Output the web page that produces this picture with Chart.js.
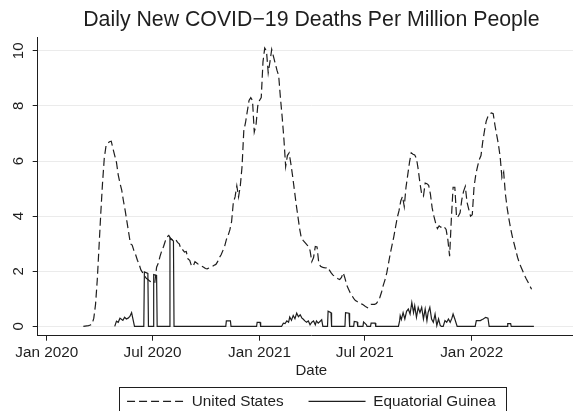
<!DOCTYPE html>
<html>
<head>
<meta charset="utf-8">
<script src="https://cdn.jsdelivr.net/npm/chart.js@4.4.1/dist/chart.umd.min.js"></script>
<style>
  html, body { margin: 0; padding: 0; background: #ffffff; overflow: hidden; }
  canvas { display: block; }
</style>
</head>
<body>
<canvas id="chart" width="585" height="411"></canvas>
<script>
// ---- chart text ----
const chartTitle = 'Daily New COVID\u221219 Deaths Per Million People';
const xAxisTitle = 'Date';
const seriesNames = ['United States', 'Equatorial Guinea'];

// ---- axis ticks ----
const tickDates = ['2020-01-01', '2020-07-01', '2021-01-01', '2021-07-01', '2022-01-01'];
const tickLabels = ['Jan 2020', 'Jul 2020', 'Jan 2021', 'Jul 2021', 'Jan 2022'];
const yTicks = [0, 2, 4, 6, 8, 10];

// ---- United States: 7-day average, one value every 3 days ----
const usFirstDate = '2020-03-04';
const usStepDays = 3;
const usDeaths = [
  0, 0.01, 0.02, 0.03, 0.05, 0.08, 0.3, 0.8, 1.7, 2.9,
  4.1, 5.2, 6.1, 6.55, 6.65, 6.7, 6.72, 6.45, 6.2, 5.95,
  5.5, 5.2, 4.95, 4.55, 4.2, 3.8, 3.4, 3.0, 2.95, 2.75,
  2.6, 2.4, 2.25, 2.05, 1.95, 1.85, 1.75, 1.7, 1.65, 1.6,
  1.62, 1.6, 2.15, 2.3, 2.55, 2.75, 2.9, 3.1, 3.25, 3.3,
  3.2, 3.15, 3.12, 3.15, 3.05, 3.0, 2.8, 2.78, 2.7, 2.72,
  2.45, 2.4, 2.2, 2.18, 2.35, 2.3, 2.25, 2.22, 2.18, 2.15,
  2.1, 2.09, 2.12, 2.15, 2.18, 2.22, 2.25, 2.35, 2.5, 2.6,
  2.75, 2.9, 3.15, 3.3, 3.5, 3.8, 4.5, 4.7, 5.1, 4.7,
  5.1, 5.8, 7.1, 7.4, 7.8, 8.2, 8.3, 8.2, 7.05, 7.3,
  8.0, 8.2, 8.3, 9.6, 10.1, 10.0, 9.2, 9.6, 10.05, 9.8,
  9.55, 9.3, 9.1, 8.3, 7.6, 6.8, 5.8, 6.2, 6.3, 5.9,
  5.45, 4.95, 4.45, 4.0, 3.55, 3.2, 3.12, 3.05, 2.98, 2.9,
  2.75, 2.35, 2.5, 2.9, 2.88, 2.3, 2.18, 2.15, 2.13, 2.12,
  2.15, 2.05, 1.95, 1.87, 1.82, 1.78, 1.73, 1.7, 1.78, 1.95,
  1.75, 1.5, 1.36, 1.22, 1.12, 1.02, 0.94, 0.9, 0.86, 0.83,
  0.8, 0.76, 0.71, 0.68, 0.75, 0.8, 0.8, 0.8, 0.83, 0.92,
  1.05, 1.25, 1.5, 1.7, 1.95, 2.3, 2.65, 2.95, 3.25, 3.6,
  3.95, 4.2, 4.55, 4.72, 4.35, 5.05, 5.5, 5.95, 6.3, 6.25,
  6.22, 6.1, 5.7, 5.2, 4.8, 4.72, 5.2, 5.18, 5.12, 4.8,
  4.3, 4.0, 3.75, 3.55, 3.65, 3.6, 3.65, 3.6, 3.52, 3.15,
  2.55, 3.9, 5.05, 5.05, 3.95, 4.0, 4.12, 4.6, 4.9, 5.08,
  4.5, 4.25, 4.0, 4.05, 5.05, 5.5, 5.8, 6.05, 6.2, 6.7,
  7.1, 7.45, 7.62, 7.7, 7.75, 7.72, 7.3, 6.95, 6.6, 6.15,
  5.4, 5.6, 4.8, 4.3, 3.9, 3.55, 3.25, 3.0, 2.75, 2.5,
  2.3, 2.15, 2.0, 1.85, 1.72, 1.6, 1.47, 1.35
];

// ---- Equatorial Guinea: values at change points (days since 2020-01-01) ----
const egDays = [
  117, 120, 123, 126, 129, 131, 134, 137, 140, 143, 146, 149, 151,
  167, 168, 174, 175,
  183, 184, 189, 190,
  211, 212, 218, 219,
  308, 309, 316, 317,
  361, 362, 367, 368,
  404, 407, 410, 413, 416, 418, 421, 424, 427, 430, 433, 436, 439, 441, 444,
  447, 450, 453, 456, 459, 462, 464, 467, 470, 473, 475,
  483, 484, 489, 490,
  513, 514, 520, 521,
  528, 529, 534, 535,
  544, 545, 548, 550, 551,
  557, 558, 565, 566,
  605, 607, 608, 610, 613, 616, 619, 622, 625, 628, 631, 633, 636, 639, 642,
  645, 648, 651, 654, 656, 659, 662, 665, 668, 671, 674, 677, 679, 682, 685,
  688, 691, 694, 697, 699, 702, 706,
  737, 739, 746, 749, 751, 755, 759, 761,
  792, 793, 798, 799,
  838
];
const egDeaths = [
  0, 0.19, 0.15, 0.3, 0.25, 0.22, 0.33, 0.27, 0.3, 0.36, 0.5, 0.2, 0,
  0, 1.98, 1.92, 0,
  0, 1.88, 1.85, 0,
  0, 3.2, 3.1, 0,
  0, 0.2, 0.2, 0,
  0, 0.15, 0.15, 0,
  0, 0.12, 0.1, 0.2, 0.15, 0.34, 0.22, 0.4, 0.28, 0.48, 0.35, 0.42, 0.3, 0.27, 0.2,
  0.15, 0.2, 0.06, 0.15, 0.2, 0.06, 0.2, 0.12, 0.18, 0.24, 0,
  0, 0.55, 0.5, 0,
  0, 0.5, 0.48, 0,
  0, 0.18, 0.16, 0,
  0, 0.16, 0.1, 0.06, 0,
  0, 0.12, 0.12, 0,
  0, 0.2, 0.39, 0.25, 0.5, 0.27, 0.55, 0.63, 0.45, 0.87, 0.5, 0.75, 0.33, 0.69, 0.5,
  0.69, 0.27, 0.63, 0.21, 0.5, 0.69, 0.27, 0.15, 0.45, 0.03, 0.27, 0.03, 0, 0, 0.21,
  0.15, 0.27, 0.15, 0.3, 0.45, 0.27, 0,
  0, 0.21, 0.21, 0.25, 0.27, 0.33, 0.3, 0,
  0, 0.1, 0.1, 0,
  0
];

// ---- helpers ----
const DAY_MS = 86400000;
const EPOCH = Date.UTC(2020, 0, 1);
const dayOf = s => Math.round((Date.parse(s + 'T00:00:00Z') - EPOCH) / DAY_MS);
const tickDays = tickDates.map(dayOf);
const usStart = dayOf(usFirstDate);

const FONT = '"Liberation Sans", Arial, Helvetica, sans-serif';
const INK = '#1e1e1e';
Chart.defaults.font.family = FONT;
Chart.defaults.color = INK;

// Frame drawn around the legend entries
const legendFrame = {
  id: 'legendFrame',
  afterDraw(chart) {
    const lg = chart.legend;
    if (!lg || !lg.legendHitBoxes || !lg.legendHitBoxes.length) return;
    const hb = lg.legendHitBoxes;
    const first = hb[0], last = hb[hb.length - 1];
    const left = Math.round(first.left - 8) + 0.5;
    const right = Math.round(last.left + last.width + 10) + 0.5;
    const top = Math.round(first.top - 7) + 0.5;
    const bottom = Math.round(first.top + first.height + 7) + 0.5;
    const ctx = chart.ctx;
    ctx.save();
    ctx.strokeStyle = INK;
    ctx.lineWidth = 1;
    ctx.setLineDash([]);
    ctx.strokeRect(left, top, right - left, bottom - top);
    ctx.restore();
  }
};

// Legend samples take the dash pattern and width of their dataset's line
const lineSamples = chart =>
  Chart.defaults.plugins.legend.labels.generateLabels(chart).map(item => {
    const ds = chart.data.datasets[item.datasetIndex];
    item.lineDash = ds.borderDash || [];
    item.lineWidth = ds.borderWidth;
    item.strokeStyle = ds.borderColor;
    item.pointStyle = 'line';
    return item;
  });

new Chart(document.getElementById('chart').getContext('2d'), {
  type: 'line',
  data: {
    datasets: [
      {
        label: seriesNames[0],
        data: usDeaths.map((v, i) => ({ x: usStart + i * usStepDays, y: v })),
        borderColor: INK,
        borderWidth: 1.2,
        borderDash: [8, 4],
        pointRadius: 0,
        fill: false,
        tension: 0
      },
      {
        label: seriesNames[1],
        data: egDays.map((d, i) => ({ x: d, y: egDeaths[i] })),
        borderColor: INK,
        borderWidth: 1.2,
        pointRadius: 0,
        fill: false,
        tension: 0
      }
    ]
  },
  options: {
    responsive: false,
    animation: false,
    devicePixelRatio: 1,
    events: [],
    layout: { padding: { top: 0, left: 0, right: 0, bottom: -8 } },
    scales: {
      x: {
        type: 'linear',
        position: 'bottom',
        min: -15.5,
        max: 925.9,
        afterBuildTicks: s => { s.ticks = tickDays.map(v => ({ value: v })); },
        afterFit: s => { s.height = 33; },
        ticks: {
          autoSkip: false,
          maxRotation: 0,
          padding: 2.5,
          font: { size: 15.3 },
          color: INK,
          callback: (v, i) => tickLabels[i]
        },
        grid: { drawOnChartArea: false, drawTicks: true, tickLength: 5, tickColor: INK, tickWidth: 1 },
        border: { display: true, color: INK, width: 1 },
        title: {
          display: true,
          text: xAxisTitle,
          font: { size: 15 },
          color: INK,
          padding: { top: 0, bottom: -11 }
        }
      },
      y: {
        min: -0.337,
        max: 10.5,
        afterBuildTicks: s => { s.ticks = yTicks.map(v => ({ value: v })); },
        afterFit: s => { s.width = 37.7; },
        ticks: {
          minRotation: 90,
          maxRotation: 90,
          crossAlign: 'center',
          padding: 5,
          font: { size: 15 },
          color: INK
        },
        grid: { color: '#ebebeb', lineWidth: 1, drawTicks: true, tickLength: 5, tickColor: INK, tickWidth: 1 },
        border: { display: true, color: INK, width: 1 }
      }
    },
    plugins: {
      title: {
        display: true,
        text: chartTitle,
        fullSize: false,
        color: INK,
        font: { size: 21.3, weight: 'normal' },
        padding: { top: 7, bottom: 4.5 }
      },
      legend: {
        position: 'bottom',
        fullSize: false,
        labels: {
          usePointStyle: true,
          pointStyle: 'line',
          pointStyleWidth: 57,
          padding: 25,
          color: INK,
          font: { size: 15.3 },
          generateLabels: lineSamples
        }
      },
      tooltip: { enabled: false }
    }
  },
  plugins: [legendFrame]
});
</script>
</body>
</html>
